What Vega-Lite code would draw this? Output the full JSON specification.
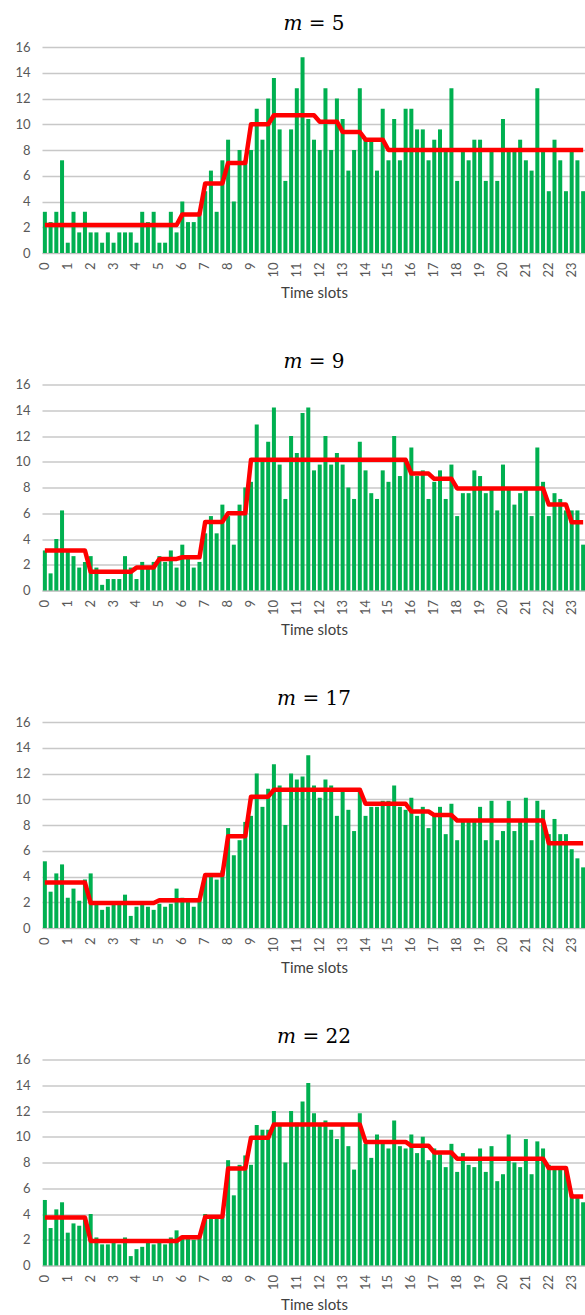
{
"$schema": "https://vega.github.io/schema/vega-lite/v6.json",
"background": "white",
"padding": {"left": 14, "top": 14, "right": 0, "bottom": 0},
"spacing": 50.5,
"config": {
  "font": "Lato",
  "view": {"stroke": null},
  "axis": {"labelFont": "Lato", "labelFontSize": 13, "labelColor": "#595959", "titleFont": "Lato", "titleFontSize": 15, "titleFontWeight": "normal", "titleColor": "#404040"},
  "axisY": {"title": null, "values": [0,2,4,6,8,10,12,14,16], "domain": false, "ticks": false, "labelPadding": 12, "gridColor": "#C8C8C8", "gridWidth": 1.5, "labelOverlap": false},
  "title": {"font": "DejaVu Serif", "fontSize": 20, "fontWeight": "normal", "color": "#000000", "offset": 7, "anchor": "middle"}
},
"datasets": {
"p5": [
{"slot":0,"value":3.2,"level":2.17},{"slot":1,"value":2.4,"level":2.17},{"slot":2,"value":3.2,"level":2.17},{"slot":3,"value":7.2,"level":2.17},{"slot":4,"value":0.8,"level":2.17},{"slot":5,"value":3.2,"level":2.17},{"slot":6,"value":1.6,"level":2.17},{"slot":7,"value":3.2,"level":2.17},{"slot":8,"value":1.6,"level":2.17},{"slot":9,"value":1.6,"level":2.17},
{"slot":10,"value":0.8,"level":2.17},{"slot":11,"value":1.6,"level":2.17},{"slot":12,"value":0.8,"level":2.17},{"slot":13,"value":1.6,"level":2.17},{"slot":14,"value":1.6,"level":2.17},{"slot":15,"value":1.6,"level":2.17},{"slot":16,"value":0.8,"level":2.17},{"slot":17,"value":3.2,"level":2.17},{"slot":18,"value":2.4,"level":2.17},{"slot":19,"value":3.2,"level":2.17},
{"slot":20,"value":0.8,"level":2.17},{"slot":21,"value":0.8,"level":2.17},{"slot":22,"value":3.2,"level":2.17},{"slot":23,"value":1.6,"level":2.17},{"slot":24,"value":4.0,"level":3.0},{"slot":25,"value":2.4,"level":3.0},{"slot":26,"value":2.4,"level":3.0},{"slot":27,"value":3.2,"level":3.0},{"slot":28,"value":4.8,"level":5.4},{"slot":29,"value":6.4,"level":5.4},
{"slot":30,"value":3.2,"level":5.4},{"slot":31,"value":7.2,"level":5.4},{"slot":32,"value":8.8,"level":7.0},{"slot":33,"value":4.0,"level":7.0},{"slot":34,"value":8.0,"level":7.0},{"slot":35,"value":7.2,"level":7.0},{"slot":36,"value":8.0,"level":10.0},{"slot":37,"value":11.2,"level":10.0},{"slot":38,"value":8.8,"level":10.0},{"slot":39,"value":12.0,"level":10.0},
{"slot":40,"value":13.6,"level":10.7},{"slot":41,"value":9.6,"level":10.7},{"slot":42,"value":5.6,"level":10.7},{"slot":43,"value":9.6,"level":10.7},{"slot":44,"value":12.8,"level":10.7},{"slot":45,"value":15.2,"level":10.7},{"slot":46,"value":10.4,"level":10.7},{"slot":47,"value":8.8,"level":10.7},{"slot":48,"value":8.0,"level":10.2},{"slot":49,"value":12.8,"level":10.2},
{"slot":50,"value":8.0,"level":10.2},{"slot":51,"value":12.0,"level":10.2},{"slot":52,"value":10.4,"level":9.4},{"slot":53,"value":6.4,"level":9.4},{"slot":54,"value":8.0,"level":9.4},{"slot":55,"value":12.8,"level":9.4},{"slot":56,"value":8.8,"level":8.8},{"slot":57,"value":8.8,"level":8.8},{"slot":58,"value":6.4,"level":8.8},{"slot":59,"value":11.2,"level":8.8},
{"slot":60,"value":7.2,"level":8.0},{"slot":61,"value":10.4,"level":8.0},{"slot":62,"value":7.2,"level":8.0},{"slot":63,"value":11.2,"level":8.0},{"slot":64,"value":11.2,"level":8.0},{"slot":65,"value":9.6,"level":8.0},{"slot":66,"value":9.6,"level":8.0},{"slot":67,"value":7.2,"level":8.0},{"slot":68,"value":8.8,"level":8.0},{"slot":69,"value":9.6,"level":8.0},
{"slot":70,"value":8.0,"level":8.0},{"slot":71,"value":12.8,"level":8.0},{"slot":72,"value":5.6,"level":8.0},{"slot":73,"value":8.0,"level":8.0},{"slot":74,"value":7.2,"level":8.0},{"slot":75,"value":8.8,"level":8.0},{"slot":76,"value":8.8,"level":8.0},{"slot":77,"value":5.6,"level":8.0},{"slot":78,"value":8.0,"level":8.0},{"slot":79,"value":5.6,"level":8.0},
{"slot":80,"value":10.4,"level":8.0},{"slot":81,"value":8.0,"level":8.0},{"slot":82,"value":8.0,"level":8.0},{"slot":83,"value":8.8,"level":8.0},{"slot":84,"value":7.2,"level":8.0},{"slot":85,"value":6.4,"level":8.0},{"slot":86,"value":12.8,"level":8.0},{"slot":87,"value":8.0,"level":8.0},{"slot":88,"value":4.8,"level":8.0},{"slot":89,"value":8.8,"level":8.0},
{"slot":90,"value":7.2,"level":8.0},{"slot":91,"value":4.8,"level":8.0},{"slot":92,"value":8.0,"level":8.0},{"slot":93,"value":7.2,"level":8.0},{"slot":94,"value":4.8,"level":8.0}
],
"p9": [
{"slot":0,"value":3.11,"level":3.11},{"slot":1,"value":1.33,"level":3.11},{"slot":2,"value":4.0,"level":3.11},{"slot":3,"value":6.22,"level":3.11},{"slot":4,"value":3.11,"level":3.11},{"slot":5,"value":2.67,"level":3.11},{"slot":6,"value":1.78,"level":3.11},{"slot":7,"value":2.22,"level":3.11},{"slot":8,"value":2.67,"level":1.45},{"slot":9,"value":1.78,"level":1.45},
{"slot":10,"value":0.44,"level":1.45},{"slot":11,"value":0.89,"level":1.45},{"slot":12,"value":0.89,"level":1.45},{"slot":13,"value":0.89,"level":1.45},{"slot":14,"value":2.67,"level":1.45},{"slot":15,"value":1.78,"level":1.45},{"slot":16,"value":0.89,"level":1.78},{"slot":17,"value":2.22,"level":1.78},{"slot":18,"value":1.78,"level":1.78},{"slot":19,"value":2.22,"level":1.78},
{"slot":20,"value":2.67,"level":2.45},{"slot":21,"value":2.22,"level":2.45},{"slot":22,"value":3.11,"level":2.45},{"slot":23,"value":1.78,"level":2.45},{"slot":24,"value":3.56,"level":2.58},{"slot":25,"value":2.67,"level":2.58},{"slot":26,"value":1.78,"level":2.58},{"slot":27,"value":2.22,"level":2.58},{"slot":28,"value":4.44,"level":5.33},{"slot":29,"value":5.78,"level":5.33},
{"slot":30,"value":4.44,"level":5.33},{"slot":31,"value":6.67,"level":5.33},{"slot":32,"value":5.78,"level":6.0},{"slot":33,"value":3.56,"level":6.0},{"slot":34,"value":6.67,"level":6.0},{"slot":35,"value":8.0,"level":6.0},{"slot":36,"value":8.44,"level":10.15},{"slot":37,"value":12.89,"level":10.15},{"slot":38,"value":10.22,"level":10.15},{"slot":39,"value":11.56,"level":10.15},
{"slot":40,"value":14.22,"level":10.15},{"slot":41,"value":9.78,"level":10.15},{"slot":42,"value":7.11,"level":10.15},{"slot":43,"value":12.0,"level":10.15},{"slot":44,"value":10.67,"level":10.15},{"slot":45,"value":13.78,"level":10.15},{"slot":46,"value":14.22,"level":10.15},{"slot":47,"value":9.33,"level":10.15},{"slot":48,"value":9.78,"level":10.15},{"slot":49,"value":12.0,"level":10.15},
{"slot":50,"value":9.78,"level":10.15},{"slot":51,"value":10.67,"level":10.15},{"slot":52,"value":9.78,"level":10.15},{"slot":53,"value":8.0,"level":10.15},{"slot":54,"value":7.11,"level":10.15},{"slot":55,"value":11.56,"level":10.15},{"slot":56,"value":9.33,"level":10.15},{"slot":57,"value":7.56,"level":10.15},{"slot":58,"value":7.11,"level":10.15},{"slot":59,"value":9.33,"level":10.15},
{"slot":60,"value":8.44,"level":10.15},{"slot":61,"value":12.0,"level":10.15},{"slot":62,"value":8.89,"level":10.15},{"slot":63,"value":10.22,"level":10.15},{"slot":64,"value":11.11,"level":9.08},{"slot":65,"value":8.89,"level":9.08},{"slot":66,"value":9.33,"level":9.08},{"slot":67,"value":7.11,"level":9.08},{"slot":68,"value":8.44,"level":8.67},{"slot":69,"value":9.33,"level":8.67},
{"slot":70,"value":7.11,"level":8.67},{"slot":71,"value":9.78,"level":8.67},{"slot":72,"value":5.78,"level":7.93},{"slot":73,"value":7.56,"level":7.93},{"slot":74,"value":7.56,"level":7.93},{"slot":75,"value":9.33,"level":7.93},{"slot":76,"value":8.89,"level":7.93},{"slot":77,"value":7.56,"level":7.93},{"slot":78,"value":8.0,"level":7.93},{"slot":79,"value":6.22,"level":7.93},
{"slot":80,"value":9.78,"level":7.93},{"slot":81,"value":8.0,"level":7.93},{"slot":82,"value":6.67,"level":7.93},{"slot":83,"value":7.56,"level":7.93},{"slot":84,"value":8.0,"level":7.93},{"slot":85,"value":5.78,"level":7.93},{"slot":86,"value":11.11,"level":7.93},{"slot":87,"value":8.44,"level":7.93},{"slot":88,"value":5.78,"level":6.67},{"slot":89,"value":7.56,"level":6.67},
{"slot":90,"value":7.11,"level":6.67},{"slot":91,"value":6.22,"level":6.67},{"slot":92,"value":6.22,"level":5.3},{"slot":93,"value":6.22,"level":5.3},{"slot":94,"value":3.56,"level":5.3}
],
"p17": [
{"slot":0,"value":5.18,"level":3.53},{"slot":1,"value":2.82,"level":3.53},{"slot":2,"value":4.24,"level":3.53},{"slot":3,"value":4.94,"level":3.53},{"slot":4,"value":2.35,"level":3.53},{"slot":5,"value":3.06,"level":3.53},{"slot":6,"value":2.12,"level":3.53},{"slot":7,"value":3.76,"level":3.53},{"slot":8,"value":4.24,"level":1.94},{"slot":9,"value":1.88,"level":1.94},
{"slot":10,"value":1.41,"level":1.94},{"slot":11,"value":1.65,"level":1.94},{"slot":12,"value":1.88,"level":1.94},{"slot":13,"value":1.88,"level":1.94},{"slot":14,"value":2.59,"level":1.94},{"slot":15,"value":0.94,"level":1.94},{"slot":16,"value":1.65,"level":1.94},{"slot":17,"value":1.88,"level":1.94},{"slot":18,"value":1.65,"level":1.94},{"slot":19,"value":1.41,"level":1.94},
{"slot":20,"value":1.88,"level":2.15},{"slot":21,"value":1.65,"level":2.15},{"slot":22,"value":1.88,"level":2.15},{"slot":23,"value":3.06,"level":2.15},{"slot":24,"value":2.35,"level":2.15},{"slot":25,"value":2.12,"level":2.15},{"slot":26,"value":1.65,"level":2.15},{"slot":27,"value":2.12,"level":2.15},{"slot":28,"value":4.0,"level":4.12},{"slot":29,"value":4.24,"level":4.12},
{"slot":30,"value":3.76,"level":4.12},{"slot":31,"value":4.47,"level":4.12},{"slot":32,"value":7.76,"level":7.13},{"slot":33,"value":5.65,"level":7.13},{"slot":34,"value":6.82,"level":7.13},{"slot":35,"value":8.24,"level":7.13},{"slot":36,"value":8.71,"level":10.2},{"slot":37,"value":12.0,"level":10.2},{"slot":38,"value":9.41,"level":10.2},{"slot":39,"value":10.82,"level":10.2},
{"slot":40,"value":12.71,"level":10.74},{"slot":41,"value":11.06,"level":10.74},{"slot":42,"value":8.0,"level":10.74},{"slot":43,"value":12.0,"level":10.74},{"slot":44,"value":11.53,"level":10.74},{"slot":45,"value":11.76,"level":10.74},{"slot":46,"value":13.41,"level":10.74},{"slot":47,"value":11.06,"level":10.74},{"slot":48,"value":10.12,"level":10.74},{"slot":49,"value":11.53,"level":10.74},
{"slot":50,"value":11.06,"level":10.74},{"slot":51,"value":8.71,"level":10.74},{"slot":52,"value":10.59,"level":10.74},{"slot":53,"value":9.18,"level":10.74},{"slot":54,"value":7.53,"level":10.74},{"slot":55,"value":10.82,"level":10.74},{"slot":56,"value":8.71,"level":9.65},{"slot":57,"value":9.41,"level":9.65},{"slot":58,"value":9.41,"level":9.65},{"slot":59,"value":9.88,"level":9.65},
{"slot":60,"value":9.88,"level":9.65},{"slot":61,"value":11.06,"level":9.65},{"slot":62,"value":9.41,"level":9.65},{"slot":63,"value":9.18,"level":9.65},{"slot":64,"value":10.12,"level":9.05},{"slot":65,"value":8.71,"level":9.05},{"slot":66,"value":9.41,"level":9.05},{"slot":67,"value":7.76,"level":9.05},{"slot":68,"value":8.71,"level":8.77},{"slot":69,"value":9.41,"level":8.77},
{"slot":70,"value":7.29,"level":8.77},{"slot":71,"value":9.65,"level":8.77},{"slot":72,"value":6.82,"level":8.35},{"slot":73,"value":8.24,"level":8.35},{"slot":74,"value":8.24,"level":8.35},{"slot":75,"value":8.24,"level":8.35},{"slot":76,"value":9.41,"level":8.35},{"slot":77,"value":6.82,"level":8.35},{"slot":78,"value":9.88,"level":8.35},{"slot":79,"value":6.82,"level":8.35},
{"slot":80,"value":7.53,"level":8.35},{"slot":81,"value":9.88,"level":8.35},{"slot":82,"value":7.53,"level":8.35},{"slot":83,"value":8.24,"level":8.35},{"slot":84,"value":10.12,"level":8.35},{"slot":85,"value":6.82,"level":8.35},{"slot":86,"value":9.88,"level":8.35},{"slot":87,"value":9.18,"level":8.35},{"slot":88,"value":7.29,"level":6.59},{"slot":89,"value":8.47,"level":6.59},
{"slot":90,"value":7.29,"level":6.59},{"slot":91,"value":7.29,"level":6.59},{"slot":92,"value":6.12,"level":6.59},{"slot":93,"value":5.41,"level":6.59},{"slot":94,"value":4.71,"level":6.59}
],
"p22": [
{"slot":0,"value":5.09,"level":3.73},{"slot":1,"value":2.91,"level":3.73},{"slot":2,"value":4.36,"level":3.73},{"slot":3,"value":4.91,"level":3.73},{"slot":4,"value":2.55,"level":3.73},{"slot":5,"value":3.27,"level":3.73},{"slot":6,"value":3.09,"level":3.73},{"slot":7,"value":3.64,"level":3.73},{"slot":8,"value":4.0,"level":1.9},{"slot":9,"value":2.18,"level":1.9},
{"slot":10,"value":1.64,"level":1.9},{"slot":11,"value":1.64,"level":1.9},{"slot":12,"value":1.82,"level":1.9},{"slot":13,"value":1.64,"level":1.9},{"slot":14,"value":2.18,"level":1.9},{"slot":15,"value":0.73,"level":1.9},{"slot":16,"value":1.27,"level":1.9},{"slot":17,"value":1.45,"level":1.9},{"slot":18,"value":1.82,"level":1.9},{"slot":19,"value":1.64,"level":1.9},
{"slot":20,"value":1.82,"level":1.9},{"slot":21,"value":1.64,"level":1.9},{"slot":22,"value":2.18,"level":1.9},{"slot":23,"value":2.73,"level":1.9},{"slot":24,"value":2.18,"level":2.2},{"slot":25,"value":2.36,"level":2.2},{"slot":26,"value":2.0,"level":2.2},{"slot":27,"value":2.18,"level":2.2},{"slot":28,"value":4.0,"level":3.78},{"slot":29,"value":3.64,"level":3.78},
{"slot":30,"value":3.64,"level":3.78},{"slot":31,"value":3.82,"level":3.78},{"slot":32,"value":8.18,"level":7.54},{"slot":33,"value":5.45,"level":7.54},{"slot":34,"value":7.82,"level":7.54},{"slot":35,"value":8.55,"level":7.54},{"slot":36,"value":7.82,"level":9.92},{"slot":37,"value":10.91,"level":9.92},{"slot":38,"value":10.55,"level":9.92},{"slot":39,"value":10.55,"level":9.92},
{"slot":40,"value":12.0,"level":10.96},{"slot":41,"value":10.91,"level":10.96},{"slot":42,"value":8.0,"level":10.96},{"slot":43,"value":12.0,"level":10.96},{"slot":44,"value":11.09,"level":10.96},{"slot":45,"value":12.73,"level":10.96},{"slot":46,"value":14.18,"level":10.96},{"slot":47,"value":11.82,"level":10.96},{"slot":48,"value":10.91,"level":10.96},{"slot":49,"value":11.27,"level":10.96},
{"slot":50,"value":10.55,"level":10.96},{"slot":51,"value":9.82,"level":10.96},{"slot":52,"value":10.91,"level":10.96},{"slot":53,"value":9.27,"level":10.96},{"slot":54,"value":7.45,"level":10.96},{"slot":55,"value":11.82,"level":10.96},{"slot":56,"value":9.45,"level":9.6},{"slot":57,"value":8.36,"level":9.6},{"slot":58,"value":10.18,"level":9.6},{"slot":59,"value":9.45,"level":9.6},
{"slot":60,"value":9.09,"level":9.6},{"slot":61,"value":11.27,"level":9.6},{"slot":62,"value":9.27,"level":9.6},{"slot":63,"value":9.09,"level":9.6},{"slot":64,"value":10.18,"level":9.3},{"slot":65,"value":8.73,"level":9.3},{"slot":66,"value":10.0,"level":9.3},{"slot":67,"value":8.18,"level":9.3},{"slot":68,"value":9.09,"level":8.77},{"slot":69,"value":8.64,"level":8.77},
{"slot":70,"value":7.64,"level":8.77},{"slot":71,"value":9.45,"level":8.77},{"slot":72,"value":7.27,"level":8.3},{"slot":73,"value":8.73,"level":8.3},{"slot":74,"value":7.82,"level":8.3},{"slot":75,"value":7.64,"level":8.3},{"slot":76,"value":9.09,"level":8.3},{"slot":77,"value":7.27,"level":8.3},{"slot":78,"value":9.27,"level":8.3},{"slot":79,"value":6.55,"level":8.3},
{"slot":80,"value":7.09,"level":8.3},{"slot":81,"value":10.18,"level":8.3},{"slot":82,"value":8.0,"level":8.3},{"slot":83,"value":7.64,"level":8.3},{"slot":84,"value":9.82,"level":8.3},{"slot":85,"value":7.09,"level":8.3},{"slot":86,"value":9.64,"level":8.3},{"slot":87,"value":9.09,"level":8.3},{"slot":88,"value":7.82,"level":7.57},{"slot":89,"value":7.45,"level":7.57},
{"slot":90,"value":7.45,"level":7.57},{"slot":91,"value":7.64,"level":7.57},{"slot":92,"value":5.55,"level":5.35},{"slot":93,"value":5.36,"level":5.35},{"slot":94,"value":4.91,"level":5.35}
]
},
"vconcat": [
{
  "title": "𝑚 = 5",
  "width": 544, "height": 206,
  "data": {"name": "p5"},
  "encoding": {"x": {"field": "slot", "type": "ordinal", "scale": {"paddingInner": 0.3, "paddingOuter": 0.15}, "axis": {"title": "Time slots", "values": [0,4,8,12,16,20,24,28,32,36,40,44,48,52,56,60,64,68,72,76,80,84,88,92], "labelExpr": "datum.value / 4", "labelAngle": -90, "ticks": false, "domainColor": "#BFBFBF", "labelPadding": 9, "titlePadding": 8}}},
  "layer": [
    {"mark": {"type": "bar", "color": "#00B050"}, "encoding": {"y": {"field": "value", "type": "quantitative", "scale": {"domain": [0, 16], "nice": false}}}},
    {"mark": {"type": "line", "color": "#FF0000", "strokeWidth": 4.5, "strokeJoin": "round"}, "encoding": {"y": {"field": "level", "type": "quantitative"}}}
  ]
},
{
  "title": "𝑚 = 9",
  "width": 544, "height": 206,
  "data": {"name": "p9"},
  "encoding": {"x": {"field": "slot", "type": "ordinal", "scale": {"paddingInner": 0.3, "paddingOuter": 0.15}, "axis": {"title": "Time slots", "values": [0,4,8,12,16,20,24,28,32,36,40,44,48,52,56,60,64,68,72,76,80,84,88,92], "labelExpr": "datum.value / 4", "labelAngle": -90, "ticks": false, "domainColor": "#BFBFBF", "labelPadding": 9, "titlePadding": 8}}},
  "layer": [
    {"mark": {"type": "bar", "color": "#00B050"}, "encoding": {"y": {"field": "value", "type": "quantitative", "scale": {"domain": [0, 16], "nice": false}}}},
    {"mark": {"type": "line", "color": "#FF0000", "strokeWidth": 4.5, "strokeJoin": "round"}, "encoding": {"y": {"field": "level", "type": "quantitative"}}}
  ]
},
{
  "title": "𝑚 = 17",
  "width": 544, "height": 206,
  "data": {"name": "p17"},
  "encoding": {"x": {"field": "slot", "type": "ordinal", "scale": {"paddingInner": 0.3, "paddingOuter": 0.15}, "axis": {"title": "Time slots", "values": [0,4,8,12,16,20,24,28,32,36,40,44,48,52,56,60,64,68,72,76,80,84,88,92], "labelExpr": "datum.value / 4", "labelAngle": -90, "ticks": false, "domainColor": "#BFBFBF", "labelPadding": 9, "titlePadding": 8}}},
  "layer": [
    {"mark": {"type": "bar", "color": "#00B050"}, "encoding": {"y": {"field": "value", "type": "quantitative", "scale": {"domain": [0, 16], "nice": false}}}},
    {"mark": {"type": "line", "color": "#FF0000", "strokeWidth": 4.5, "strokeJoin": "round"}, "encoding": {"y": {"field": "level", "type": "quantitative"}}}
  ]
},
{
  "title": "𝑚 = 22",
  "width": 544, "height": 206,
  "data": {"name": "p22"},
  "encoding": {"x": {"field": "slot", "type": "ordinal", "scale": {"paddingInner": 0.3, "paddingOuter": 0.15}, "axis": {"title": "Time slots", "values": [0,4,8,12,16,20,24,28,32,36,40,44,48,52,56,60,64,68,72,76,80,84,88,92], "labelExpr": "datum.value / 4", "labelAngle": -90, "ticks": false, "domainColor": "#BFBFBF", "labelPadding": 9, "titlePadding": 8}}},
  "layer": [
    {"mark": {"type": "bar", "color": "#00B050"}, "encoding": {"y": {"field": "value", "type": "quantitative", "scale": {"domain": [0, 16], "nice": false}}}},
    {"mark": {"type": "line", "color": "#FF0000", "strokeWidth": 4.5, "strokeJoin": "round"}, "encoding": {"y": {"field": "level", "type": "quantitative"}}}
  ]
}
]
}
